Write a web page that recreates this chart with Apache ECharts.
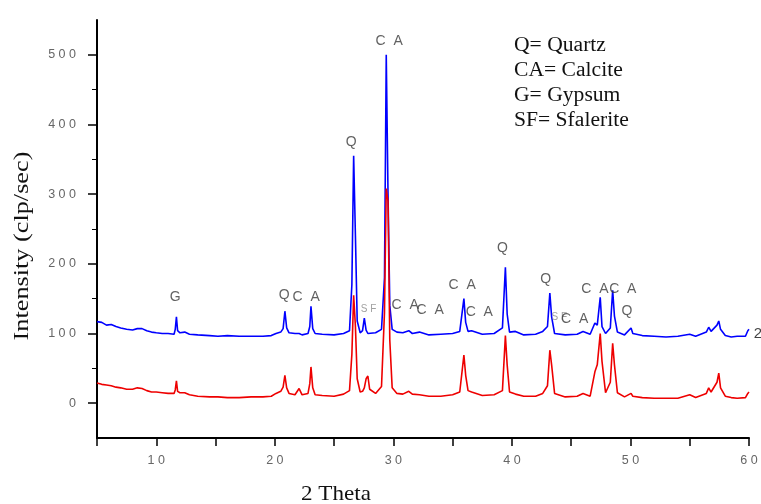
<!DOCTYPE html>
<html>
<head>
<meta charset="utf-8">
<script src="https://cdn.jsdelivr.net/npm/echarts@6/dist/echarts.min.js"></script>
<style>html,body{margin:0;padding:0;background:#fff;}#c{width:761px;height:504px;}</style>
</head>
<body>
<div id="c"></div>
<script>
// 2 theta positions (degrees)
const theta = [5.0,5.4,5.8,6.2,6.6,7.0,7.5,8.0,8.4,8.8,9.2,9.6,10.0,10.5,11.0,11.5,11.6,11.7,11.8,12.0,12.4,12.8,13.5,14.5,15.2,16.0,17.0,18.0,19.0,19.7,20.1,20.5,20.7,20.85,21.0,21.2,21.7,22.05,22.3,22.8,22.95,23.05,23.2,23.4,24.0,25.0,25.8,26.3,26.5,26.65,26.8,26.95,27.2,27.4,27.55,27.7,27.85,28.0,28.5,29.0,29.25,29.4,29.55,29.7,29.9,30.3,30.8,31.3,31.6,32.2,33.0,34.0,35.0,35.6,35.95,36.1,36.3,36.6,37.5,38.5,39.2,39.45,39.6,39.8,40.3,41.0,42.0,42.6,43.0,43.2,43.35,43.6,44.5,45.5,46.0,46.6,47.0,47.2,47.45,47.6,47.9,48.3,48.5,48.65,48.9,49.5,50.05,50.2,51.0,52.0,53.0,54.0,55.0,55.5,56.4,56.6,56.8,57.3,57.45,57.6,58.0,58.5,59.0,59.7,59.9,60.0];
// upper (blue) pattern, plotted intensity
const blueCounts = [117,116,112,113,110,108,106,105,107,107,104,102,101,100,100,99,106,124,104,101,102,99,98,97,96,97,96,96,96,97,100,102,107,132,108,101,100,100,98,100,110,139,107,100,99,98,100,104,170,355,240,118,101,104,122,105,100,99,101,106,180,500,300,140,106,102,101,104,100,102,98,99,100,103,150,116,103,104,99,100,108,195,128,102,103,98,99,103,110,158,124,100,98,99,103,99,115,112,152,110,100,108,162,125,102,98,108,100,97,96,95,96,99,96,102,109,103,112,118,106,97,95,96,96,104,106];
// lower (red) pattern, plotted intensity
const redCounts = [29,27,26,25,23,22,20,20,22,21,18,16,16,15,14,14,19,32,17,15,15,12,10,9,9,8,8,9,9,10,14,17,23,40,22,14,12,21,12,14,28,52,22,12,11,10,13,18,70,155,110,35,16,17,22,35,39,20,14,24,130,308,290,90,22,14,13,17,13,12,10,10,12,16,69,40,18,16,11,12,18,97,55,16,13,10,10,14,25,76,55,14,9,10,14,10,45,55,100,60,15,30,86,55,15,9,14,10,8,7,7,7,12,8,14,22,16,30,43,22,10,8,7,8,14,16];
// peak annotations
const annText  = ['G','Q','C  A','Q','C  A','S F','C  A','C  A','C  A','C  A','Q','Q','S F','C  A','C  A','C  A','Q'];
const annTheta = [11.6,20.8,22.65,26.45,29.65,27.9,31.0,33.1,35.8,37.25,39.2,42.85,44.0,45.3,47.0,49.35,49.7];
const annValue = [152,155,152,374,520,135,141,133,169,130,223,178,123,121,163,163,132];
const xTicksLabelled = [10,20,30,40,50,60];
const yTicksLabelled = [0,100,200,300,400,500];
const yMinorTicks = [50,150,250,350,450];
const legendLines = ['Q= Quartz','CA= Calcite','G= Gypsum','SF= Sfalerite'];
const xTitle = '2 Theta';
const yTitle = 'Intensity (clp/sec)';

const spaced = v => String(v).split('').join(' ');
const chart = echarts.init(document.getElementById('c'));
const annData = annText.map((t,i)=>({value:[annTheta[i],annValue[i]],name:t,
  label:{fontSize: t==='S F'?10:14, color: t==='S F'?'#888':'#3a3a3a'}}));
annData.push({value:[60.75,100],name:'2',label:{fontSize:15,color:'#111'}});

const serif = '"Liberation Serif", "Times New Roman", serif';
chart.setOption({
  animation:false,
  backgroundColor:'#fff',
  grid:{left:97,right:12,top:20,bottom:66},
  xAxis:{type:'value',min:5,max:60,interval:5,
    axisLine:{onZero:false,lineStyle:{color:'#000',width:2}},
    axisTick:{length:8,lineStyle:{color:'#000',width:1.5}},
    axisLabel:{margin:16,color:'#666',fontFamily:'Liberation Sans, Arial',fontSize:12.5,
      formatter:v=>xTicksLabelled.includes(v)?spaced(v):''},
    splitLine:{show:false}},
  yAxis:[{type:'value',min:-50,max:550,interval:50,
    axisLine:{show:true,onZero:false,lineStyle:{color:'#000',width:2}},
    axisTick:{show:true,length:9,customValues:yTicksLabelled,lineStyle:{color:'#000',width:1.5}},
    axisLabel:{margin:21,color:'#666',fontFamily:'Liberation Sans, Arial',fontSize:12.5,
      formatter:v=>yTicksLabelled.includes(v)?spaced(v):''},
    splitLine:{show:false}},
   {type:'value',min:-50,max:550,interval:50,position:'left',
    axisLine:{show:false},
    axisTick:{show:true,length:5,customValues:yMinorTicks,lineStyle:{color:'#000',width:1}},
    axisLabel:{show:false},splitLine:{show:false}}],
  graphic:legendLines.map((t,i)=>({type:'text',x:514,y:36+i*25,scaleX:1.08,
    style:{text:t,font:'20px '+serif,fill:'#111'}})).concat([
    {type:'text',x:336,y:494,scaleX:1.1,
      style:{text:xTitle,font:'21px '+serif,fill:'#111',align:'center',verticalAlign:'middle'}},
    {type:'text',x:22,y:246,rotation:Math.PI/2,scaleX:1.25,
      style:{text:yTitle,font:'21px '+serif,fill:'#111',align:'center',verticalAlign:'middle'}}
  ]),
  series:[
    {type:'line',data:theta.map((t,i)=>[t,blueCounts[i]]),showSymbol:false,
     lineStyle:{color:'#0000ff',width:1.6},itemStyle:{color:'#0000ff'},z:2},
    {type:'line',data:theta.map((t,i)=>[t,redCounts[i]]),showSymbol:false,
     lineStyle:{color:'#ee0000',width:1.6},itemStyle:{color:'#ee0000'},z:3},
    {type:'scatter',data:annData,symbolSize:0,clip:false,silent:true,z:5,
     label:{show:true,position:'inside',formatter:p=>p.name,fontFamily:'Liberation Sans, Arial'}}
  ]
});
</script>
</body>
</html>
